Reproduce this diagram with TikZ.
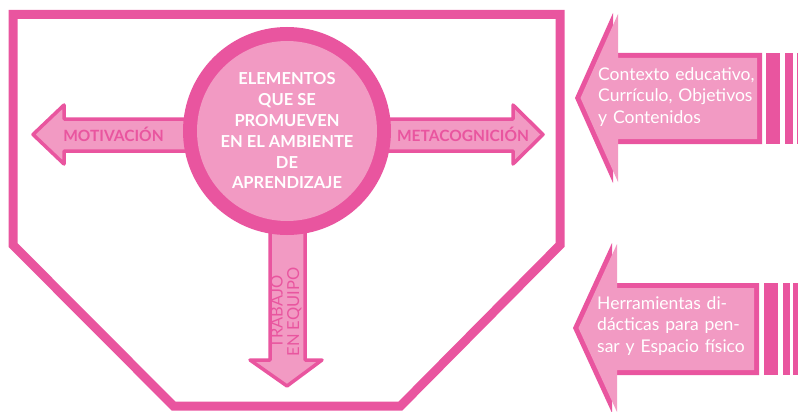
\documentclass[tikz,border=0pt]{standalone}
\usepackage{fontspec}
\setmainfont{Lato}
\definecolor{dpink}{HTML}{E9559F}
\definecolor{lpink}{HTML}{F29AC3}
\begin{document}
\begin{tikzpicture}[x=1pt,y=-1pt,
  frameline/.style={draw=dpink,line width=9pt,line join=miter},
  smallarrow/.style={draw=dpink,fill=lpink,line width=3.5pt,line join=round},
  arrowlabel/.style={text=dpink,font=\bfseries\fontsize{15.5}{18}\selectfont,inner sep=0pt},
  circletext/.style={text=white,font=\bfseries\fontsize{16.5}{20.8}\selectfont,align=center,inner sep=0pt},
  boxtext/.style={text=white,font=\fontsize{17.5}{21.5}\selectfont,align=left,inner sep=0pt,anchor=north west},
  bar/.style={fill=dpink,draw=none}]
\useasboundingbox (0,0) rectangle (798,412);
% frame
\draw[frameline] (13,14.5) -- (560,14.5) -- (560,245) -- (400.5,406) -- (173.5,406) -- (13,245) -- cycle;
% left arrow
\draw[smallarrow] (33,134.5) -- (64,105) -- (64,119) -- (200,119) -- (200,151) -- (64,151) -- (64,164) -- cycle;
% right arrow
\draw[smallarrow] (543,134.5) -- (513,105) -- (513,119) -- (380,119) -- (380,151) -- (513,151) -- (513,164) -- cycle;
% down arrow
\draw[smallarrow] (287,386) -- (250,360) -- (270,360) -- (270,200) -- (305,200) -- (305,360) -- (322,360) -- cycle;
% circle
\fill[dpink] (287,131) circle (104);
\fill[lpink] (287,131) circle (90);
\node[circletext] (centre) at (287,131) {ELEMENTOS\\QUE SE\\PROMUEVEN\\EN EL AMBIENTE\\DE\\APRENDIZAJE};
\node[arrowlabel] (motiv) at (113.5,134) {MOTIVACIÓN};
\node[arrowlabel] (metac) at (463,134) {METACOGNICIÓN};
\node[text=dpink,font=\fontsize{16.5}{16.5}\selectfont,align=center,inner sep=0pt,rotate=90] (trabajo) at (286,312) {TRABAJO\\EN EQUIPO};
% top right arrow
\fill[dpink] (575,98) -- (613,13) -- (613,53) -- (762,53) -- (762,144) -- (613,144) -- (613,183) -- cycle;
\fill[lpink] (580.5,98) -- (618,14) -- (618,58) -- (757,58) -- (757,139) -- (618,139) -- (618,182) -- cycle;
\fill[bar] (766,53) rectangle (780,144);
\fill[bar] (785,53) rectangle (793,144);
\fill[bar] (797,53) rectangle (799,144);
\node[boxtext,text width=159pt] (ctx) at (598,67) {\makebox[\linewidth][s]{Contexto educativo,}\\Currículo, Objetivos\\y Contenidos};
% bottom right arrow
\fill[dpink] (573,328) -- (612,243) -- (612,283) -- (759,283) -- (759,375) -- (612,375) -- (612,413) -- cycle;
\fill[lpink] (578.5,328) -- (617,244) -- (617,288) -- (754,288) -- (754,370) -- (617,370) -- (617,412) -- cycle;
\fill[bar] (764,283) rectangle (778,375);
\fill[bar] (783,283) rectangle (790,375);
\fill[bar] (793,283) rectangle (799,375);
\node[boxtext,text width=159pt] (herr) at (597,296) {Herramientas di-\\dácticas para pen-\\sar y Espacio físico};
\end{tikzpicture}
\end{document}
